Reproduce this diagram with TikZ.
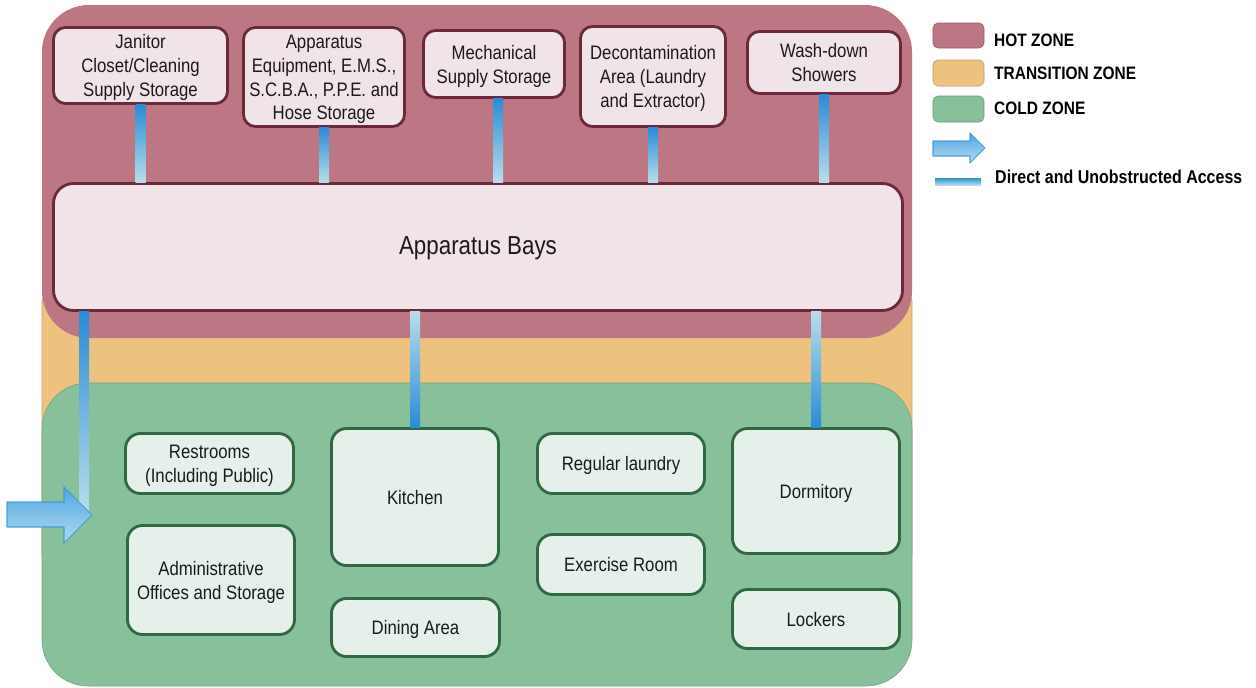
\documentclass[tikz,border=0pt]{standalone}
\usepackage{fontspec}
\setmainfont{Liberation Sans}[FakeStretch=0.86]
\usetikzlibrary{calc}
\definecolor{hotz}{HTML}{BC7684}
\definecolor{transz}{HTML}{EDC17E}
\definecolor{coldz}{HTML}{87C09B}
\definecolor{hotfill}{HTML}{F1E4E9}
\definecolor{hotline}{HTML}{6A2A3A}
\definecolor{coldfill}{HTML}{E6F0EB}
\definecolor{coldline}{HTML}{2F6843}
\definecolor{txt}{HTML}{1A1A1A}
\definecolor{bardark}{HTML}{2A8CD6}
\definecolor{barlight}{HTML}{B8DDEA}
\definecolor{arrtop}{HTML}{4FA6E2}
\definecolor{arrbot}{HTML}{B3DAF0}
\definecolor{arrline}{HTML}{3C9BDA}
\newcommand\bt[1]{\raisebox{-2.5pt}[\height][\depth]{\begin{tabular}{@{}c@{}}#1\end{tabular}}}
\begin{document}
\begin{tikzpicture}[x=1pt,y=-1pt,
  box/.style={rounded corners=12pt, line width=2.8pt, text=txt,
    font=\fontsize{19.5}{23.8}\selectfont, inner sep=0pt},
  hotbox/.style={box, draw=hotline, fill=hotfill},
  coldbox/.style={box, draw=coldline, fill=coldfill, rounded corners=15pt},
  bardown/.style={top color=bardark, bottom color=barlight},
  barup/.style={top color=barlight, bottom color=bardark},
  legtext/.style={anchor=west, inner sep=0pt, text=black, font=\fontsize{18}{20}\selectfont\bfseries},
  swatch/.style={rounded corners=5pt, line width=0.6pt},
  bigarrow/.style={top color=arrtop, bottom color=arrbot, draw=arrline, line width=0.6pt}
]
\useasboundingbox (0,0) rectangle (1256,688);

% zones
\filldraw[fill=transz, draw=transz!85!black, line width=0.6pt, rounded corners=6pt] (42,295) rectangle (912,560);
\filldraw[fill=coldz, draw=coldz!85!black, line width=0.6pt, rounded corners=46pt] (42,383) rectangle (912,686);
\fill[hotz, rounded corners=47pt] (42,5) rectangle (912,338);

% hot zone boxes
\node[hotbox, minimum width=174, minimum height=76] (jan) at (140.5,65.5) {\bt{Janitor\\Closet/Cleaning\\Supply Storage}};
\node[hotbox, minimum width=161, minimum height=99] (app) at (324,77) {\bt{Apparatus\\Equipment, E.M.S.,\\S.C.B.A., P.P.E. and\\Hose Storage}};
\node[hotbox, minimum width=141, minimum height=67] (mech) at (494,64) {\bt{Mechanical\\Supply Storage}};
\node[hotbox, minimum width=145, minimum height=100] (dec) at (653,76.5) {\bt{Decontamination\\Area (Laundry\\and Extractor)}};
\node[hotbox, minimum width=153, minimum height=62] (wash) at (824,62.5) {\bt{Wash-down\\Showers}};
\node[hotbox, rounded corners=20pt, minimum width=849, minimum height=127,
  font=\fontsize{26}{30}\selectfont] (bays) at (478,247) {\raisebox{-1.5pt}[\height][\depth]{Apparatus Bays}};

% cold zone boxes
\node[coldbox, minimum width=168, minimum height=60] (rest) at (209.5,463.5) {\bt{Restrooms\\(Including Public)}};
\node[coldbox, minimum width=167, minimum height=137] (kit) at (415,497) {\bt{Kitchen}};
\node[coldbox, minimum width=167, minimum height=109] (adm) at (211,580) {\bt{Administrative\\Offices and Storage}};
\node[coldbox, minimum width=168, minimum height=58] (din) at (415.5,627.5) {\bt{Dining Area}};
\node[coldbox, minimum width=167, minimum height=60] (lau) at (621,463.5) {\bt{Regular laundry}};
\node[coldbox, minimum width=167, minimum height=60] (exe) at (621,564.5) {\bt{Exercise Room}};
\node[coldbox, minimum width=167, minimum height=125] (dor) at (816,491) {\bt{Dormitory}};
\node[coldbox, minimum width=167, minimum height=59] (lock) at (816,619) {\bt{Lockers}};

% access bars (hot boxes to bays)
\coordinate (mx) at (498,0);
\shade[bardown] ($(jan.south)+(-5,0)$) rectangle ($(jan.south |- bays.north)+(5,0)$);
\shade[bardown] ($(app.south)+(-5,0)$) rectangle ($(app.south |- bays.north)+(5,0)$);
\shade[bardown] ($(mech.south -| mx)+(-5,0)$) rectangle ($(mx |- bays.north)+(5,0)$);
\shade[bardown] ($(dec.south)+(-5,0)$) rectangle ($(dec.south |- bays.north)+(5,0)$);
\shade[bardown] ($(wash.south)+(-5,0)$) rectangle ($(wash.south |- bays.north)+(5,0)$);

% bars from bays to cold zone
\coordinate (lx) at (84,512);
\shade[bardown] ($(bays.south -| lx)+(-5,0)$) rectangle ($(lx)+(5,0)$);
\shade[barup] ($(bays.south -| kit.north)+(-5,0)$) rectangle ($(kit.north)+(5,0)$);
\shade[barup] ($(bays.south -| dor.north)+(-5,0)$) rectangle ($(dor.north)+(5,0)$);

% entrance arrow
\shade[bigarrow] (7,502) -- (64,502) -- (64,487) -- (92,515) -- (64,543) -- (64,527) -- (7,527) -- cycle;
\draw[arrline, line width=0.6pt] (7,502) -- (64,502) -- (64,487) -- (92,515) -- (64,543) -- (64,527) -- (7,527) -- cycle;

% legend
\filldraw[swatch, fill=hotz, draw=hotz!80!black] (933,23) rectangle (984,48);
\filldraw[swatch, fill=transz, draw=transz!80!black] (933,60) rectangle (984,86);
\filldraw[swatch, fill=coldz, draw=coldz!80!black] (933,96) rectangle (984,122);
\node[legtext] (lhot) at (994,40) {HOT ZONE};
\node[legtext] (ltrans) at (994,73.5) {TRANSITION ZONE};
\node[legtext] (lcold) at (994,108) {COLD ZONE};
\shade[bigarrow] (933,141) -- (970,141) -- (970,133) -- (985,148) -- (970,163) -- (970,156) -- (933,156) -- cycle;
\draw[arrline, line width=0.6pt] (933,141) -- (970,141) -- (970,133) -- (985,148) -- (970,163) -- (970,156) -- (933,156) -- cycle;
\shade[bardown] (935,178) rectangle (981,185);
\node[legtext, font=\fontsize{18.6}{20}\selectfont\bfseries] (lacc) at (995,176.5) {Direct and Unobstructed Access};
\end{tikzpicture}
\end{document}
